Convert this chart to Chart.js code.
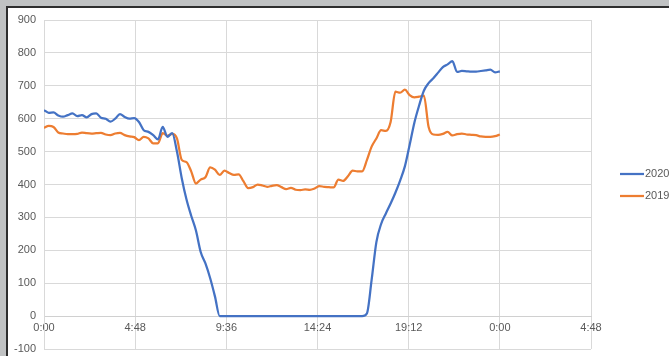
<!DOCTYPE html>
<html>
<head>
<meta charset="utf-8">
<script src="https://cdn.jsdelivr.net/npm/chart.js@4/dist/chart.umd.min.js"></script>
<style>
  html, body { margin: 0; padding: 0; background: #c0c2c3; }
  #wrap { position: absolute; left: 0; top: 0; width: 669px; height: 356px; }
</style>
</head>
<body>
<div id="wrap"><canvas id="loadChart"></canvas></div>
<script>
// readings every 15 minutes, 0:00 to 24:00
const hours = Array.from({ length: 97 }, (_, i) => i * 0.25);

const values2020 = [
  626, 618, 619, 610, 606, 611, 616, 608, 611, 604, 614, 616, 603, 600, 591, 600,
  614, 605, 600, 602, 590, 565, 560, 550, 537, 575, 545, 556, 500, 420, 355, 305,
  260, 195, 160, 115, 60, 0, 0, 0, 0, 0, 0, 0, 0, 0, 0, 0,
  0, 0, 0, 0, 0, 0, 0, 0, 0, 0, 0, 0, 0, 0, 0, 0,
  0, 0, 0, 0, 8, 110, 225, 280, 312, 342, 375, 412, 455, 520, 588, 640,
  685, 708, 723, 740, 757, 765, 775, 742, 745, 744, 743, 743, 745, 747, 749, 741,
  744,
];

const values2019 = [
  572, 578, 575, 558, 555, 553, 553, 554, 558, 556, 555, 556, 557, 552, 550, 555,
  557, 550, 546, 544, 535, 545, 540, 525, 525, 556, 548, 554, 540, 475, 468, 440,
  403, 415, 422, 452, 445, 429, 442, 435, 429, 431, 410, 389, 392, 400, 397, 393,
  396, 398, 392, 386, 390, 384, 383, 385, 384, 388, 395, 393, 392, 391, 415, 411,
  425, 442, 440, 440, 474, 515, 540, 565, 563, 590, 682, 679, 688, 672, 665, 667,
  670, 575, 552, 551, 554, 560, 549, 553, 555, 552, 551, 550, 546, 545, 545, 547,
  552,
];

const xTicks = [0, 4.8, 9.6, 14.4, 19.2, 24, 28.8];
const seriesNames = ["2020", "2019"];
const seriesColors = ["#4472c4", "#ed7d31"];

const toPoints = (vals) => vals.map((v, i) => ({ x: hours[i], y: v }));

function fmtTime(h) {
  const total = Math.round(h * 60);
  const hh = Math.floor(total / 60) % 24;
  const mm = total % 60;
  return hh + ":" + String(mm).padStart(2, "0");
}

// grey surround with the dark edge of the sheet
const framePlugin = {
  id: "frame",
  beforeDraw(chart) {
    const { ctx, width, height } = chart;
    ctx.save();
    ctx.fillStyle = "#c0c2c3";
    ctx.fillRect(0, 0, width, height);
    ctx.fillStyle = "#ffffff";
    ctx.fillRect(8, 8, width - 8, height - 8);
    ctx.strokeStyle = "#2e2e2e";
    ctx.lineWidth = 2;
    ctx.beginPath();
    ctx.moveTo(7, height);
    ctx.lineTo(7, 7);
    ctx.lineTo(width, 7);
    ctx.stroke();
    ctx.restore();
  },
};

// legend on the right, Excel style (line sample + label)
const sideLegend = {
  id: "sideLegend",
  afterDraw(chart) {
    const { ctx } = chart;
    ctx.save();
    ctx.font = "11px 'Liberation Sans', Arial, sans-serif";
    ctx.textBaseline = "middle";
    chart.data.datasets.forEach((ds, i) => {
      const y = 174 + i * 22;
      ctx.strokeStyle = ds.borderColor;
      ctx.lineWidth = 2.25;
      ctx.beginPath();
      ctx.moveTo(620, y);
      ctx.lineTo(644, y);
      ctx.stroke();
      ctx.fillStyle = "#595959";
      ctx.fillText(ds.label, 645, y);
    });
    ctx.restore();
  },
};

const ctx = document.getElementById("loadChart").getContext("2d");

new Chart(ctx, {
  type: "line",
  data: {
    datasets: [
      {
        label: seriesNames[0],
        data: toPoints(values2020),
        borderColor: seriesColors[0],
        backgroundColor: seriesColors[0],
        borderWidth: 2.25,
        pointRadius: 0,
        tension: 0.35,
        cubicInterpolationMode: "monotone",
        fill: false,
      },
      {
        label: seriesNames[1],
        data: toPoints(values2019),
        borderColor: seriesColors[1],
        backgroundColor: seriesColors[1],
        borderWidth: 2.25,
        pointRadius: 0,
        tension: 0.35,
        cubicInterpolationMode: "monotone",
        fill: false,
      },
    ],
  },
  options: {
    responsive: true,
    maintainAspectRatio: false,
    animation: false,
    layout: {
      padding: { left: 0, top: 20, right: 78, bottom: 7 },
    },
    plugins: {
      legend: { display: false },
      tooltip: { enabled: false },
    },
    scales: {
      x: {
        type: "linear",
        position: { y: 0 },
        min: 0,
        max: 28.8,
        afterBuildTicks: (scale) => {
          scale.ticks = xTicks.map((v) => ({ value: v }));
        },
        afterFit: (scale) => {
          scale.paddingTop = 0;
          scale.paddingBottom = 0;
        },
        grid: { color: "#d9d9d9", lineWidth: 1, drawTicks: false },
        border: { color: "#d0d0d0" },
        ticks: {
          padding: 5,
          color: "#595959",
          maxRotation: 0,
          autoSkip: false,
          font: { family: "'Liberation Sans', Arial, sans-serif", size: 11 },
          callback: (v) => fmtTime(v),
        },
      },
      y: {
        min: -100,
        max: 900,
        afterFit: (scale) => {
          // fixed axis width; tick padding should not add vertical room
          scale.width = 44;
          scale.paddingTop = 0;
          scale.paddingBottom = 0;
        },
        grid: { color: "#d9d9d9", lineWidth: 1, drawTicks: false },
        border: { color: "#d9d9d9" },
        ticks: {
          stepSize: 100,
          padding: 8,
          color: "#595959",
          font: { family: "'Liberation Sans', Arial, sans-serif", size: 11 },
        },
      },
    },
  },
  plugins: [framePlugin, sideLegend],
});
</script>
</body>
</html>
